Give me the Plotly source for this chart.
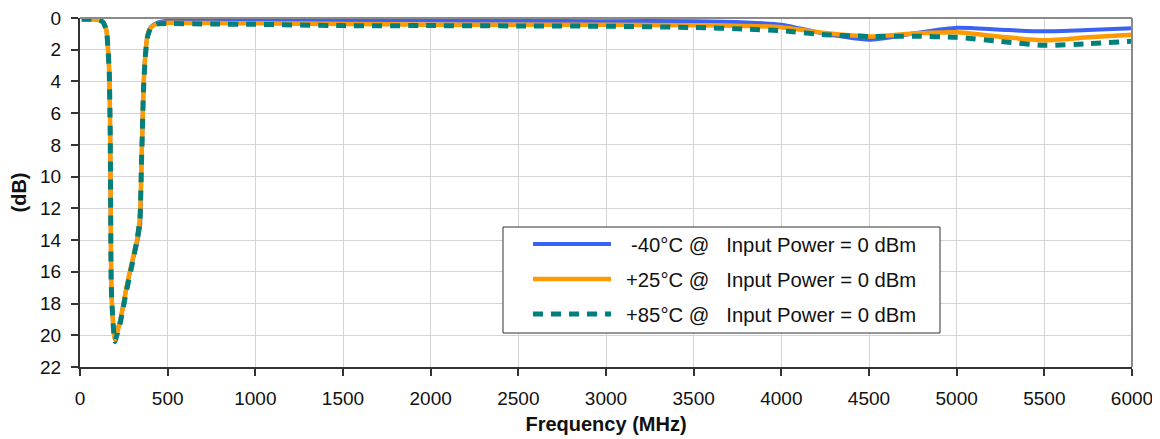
import plotly.graph_objects as go

# ---- data ----
freq_mhz = [10, 60, 100, 130, 150, 160, 167, 172, 175, 178, 185, 195, 200, 210, 230,
            265, 300, 325, 342, 350, 356, 362, 372, 385, 405, 440, 500, 750, 1000,
            1500, 2000, 2500, 3000, 3500, 3800, 4000, 4250, 4500, 4750, 5000, 5250,
            5500, 5750, 6000]

loss_m40 = [0.08, 0.08, 0.1, 0.25, 0.75, 2.0, 3.5, 7.0, 12.0, 16.5, 18.6, 20.0, 20.2, 19.8, 19.0,
            17.0, 15.3, 14.2, 13.2, 9.5, 7.0, 4.5, 2.4, 1.1, 0.55, 0.3, 0.18, 0.13, 0.12,
            0.12, 0.15, 0.18, 0.2, 0.2, 0.28, 0.42, 1.0, 1.37, 0.98, 0.62, 0.74,
            0.84, 0.76, 0.65]

loss_p25 = [0.08, 0.08, 0.1, 0.25, 0.75, 2.0, 3.5, 7.0, 12.0, 16.5, 18.6, 20.0, 20.3, 19.9, 19.1,
            17.0, 15.2, 14.0, 12.5, 9.4, 7.0, 4.5, 2.4, 1.1, 0.6, 0.35, 0.3, 0.32, 0.33,
            0.38, 0.42, 0.43, 0.43, 0.45, 0.5, 0.58, 0.95, 1.16, 0.98, 0.9, 1.18,
            1.4, 1.22, 1.05]

loss_p85 = [0.08, 0.08, 0.1, 0.25, 0.75, 2.0, 3.5, 7.0, 12.0, 16.8, 18.6, 20.1, 20.4, 20.0, 19.2,
            17.2, 15.4, 14.0, 12.6, 9.4, 7.0, 4.6, 2.5, 1.2, 0.6, 0.38, 0.35, 0.38, 0.4,
            0.48, 0.48, 0.5, 0.52, 0.6, 0.7, 0.8, 1.05, 1.16, 1.15, 1.22, 1.48,
            1.72, 1.62, 1.47]

series_names = ["-40°C @\u00a0\u00a0\u00a0Input Power = 0 dBm",
                "+25°C @\u00a0\u00a0\u00a0Input Power = 0 dBm",
                "+85°C @\u00a0\u00a0\u00a0Input Power = 0 dBm"]

x_ticks = [0, 500, 1000, 1500, 2000, 2500, 3000, 3500, 4000, 4500, 5000, 5500, 6000]
y_ticks = [0, 2, 4, 6, 8, 10, 12, 14, 16, 18, 20, 22]

# ---- styling ----
FONT = "Liberation Sans, Arial, sans-serif"
colors = ["#3A62F4", "#FF9A00", "#00807C"]
widths = [4, 4.5, 5]
dashes = ["solid", "solid", "10px,8px"]

# the page body adds an 8px offset; screen px = figure px + 8
OFF = 8
W, H = 1160 - OFF, 439 - OFF
ML, MR, MT, MB = 80 - OFF, 28, 18 - OFF, 72
PW, PH = W - ML - MR, H - MT - MB

def px_x(p):  # screen pixel -> paper x
    return (p - OFF - ML) / PW

def px_y(p):  # screen pixel -> paper y
    return (H - MB - (p - OFF)) / PH

fig = go.Figure()
for vals, name, c, w, d in zip([loss_m40, loss_p25, loss_p85], series_names, colors, widths, dashes):
    fig.add_trace(go.Scatter(
        x=freq_mhz, y=vals, mode="lines", name=name,
        line=dict(color=c, width=w, dash=d, shape="spline", smoothing=0.6),
        showlegend=False,
    ))

# frame (top/right grey)
shapes = [
    dict(type="line", xref="paper", yref="paper", x0=0, x1=1, y0=1, y1=1,
         line=dict(color="#8a8a8a", width=2), layer="above"),
    dict(type="line", xref="paper", yref="paper", x0=1, x1=1, y0=0, y1=1,
         line=dict(color="#8a8a8a", width=2), layer="above"),
]

# legend box
box_l, box_r, box_t, box_b = 503, 940, 227, 333
shapes.append(dict(type="rect", xref="paper", yref="paper",
                   x0=px_x(box_l), x1=px_x(box_r), y0=px_y(box_b), y1=px_y(box_t),
                   line=dict(color="#333333", width=1), fillcolor="white", layer="above"))
annotations = []
row_y = [244, 279, 314]
for name, c, w, d, ry in zip(series_names, colors, widths, dashes, row_y):
    shapes.append(dict(type="line", xref="paper", yref="paper",
                       x0=px_x(533), x1=px_x(611), y0=px_y(ry), y1=px_y(ry),
                       line=dict(color=c, width=w if d == "solid" else 5, dash=d), layer="above"))
    annotations.append(dict(xref="paper", yref="paper", x=px_x(918), y=px_y(ry + 1),
                            text=name, showarrow=False, xanchor="right", yanchor="middle",
                            font=dict(family=FONT, size=20.3, color="#111111")))

fig.update_layout(
    width=W, height=H,
    margin=dict(l=ML, r=MR, t=MT, b=MB, pad=0),
    paper_bgcolor="white", plot_bgcolor="white",
    font=dict(family=FONT, size=19, color="#111111"),
    shapes=shapes, annotations=annotations,
    showlegend=False,
)
fig.update_xaxes(
    range=[0, 6000], tickvals=x_ticks, ticktext=[str(v) for v in x_ticks],
    showgrid=True, gridcolor="#d4d4d4", gridwidth=1,
    showline=True, linecolor="#333333", linewidth=2,
    ticks="outside", ticklen=7, tickcolor="#333333", tickwidth=1.5,
    ticklabelstandoff=6, ticklabeloverflow="allow", zeroline=False, automargin=False,
    title=dict(text="<b>Frequency (MHz)</b>", font=dict(family=FONT, size=20), standoff=9),
)
fig.update_yaxes(
    range=[22, 0], tickvals=y_ticks, ticktext=[str(v) for v in y_ticks],
    showgrid=True, gridcolor="#d4d4d4", gridwidth=1,
    showline=True, linecolor="#333333", linewidth=2,
    ticks="outside", ticklen=7, tickcolor="#333333", tickwidth=1.5,
    ticklabelstandoff=6, ticklabeloverflow="allow", zeroline=False, automargin=False,
    title=dict(text="<b>(dB)</b>", font=dict(family=FONT, size=20), standoff=10),
)

fig.write_html("out.html")
